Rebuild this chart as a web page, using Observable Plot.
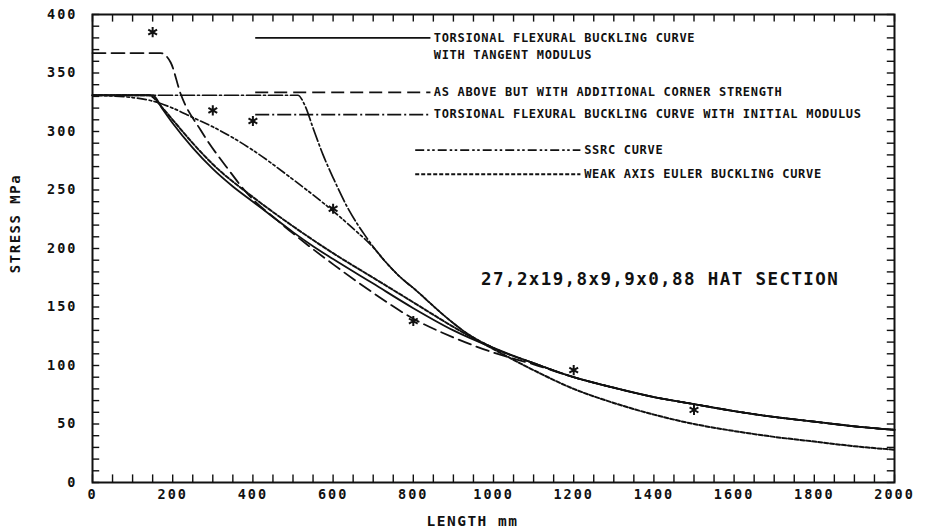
<!DOCTYPE html>
<html><head><meta charset="utf-8">
<script src="https://cdn.jsdelivr.net/npm/d3@7"></script>
<script src="https://cdn.jsdelivr.net/npm/@observablehq/plot@0.6"></script>
<style>
body{margin:0;background:#fff;}
#chart svg{display:block;}
</style></head><body><div id="chart"></div>
<script>
// ---- data (length mm, stress MPa) ----
const tangentL = [0,150,175,200,250,300,350,400,450,500,550,600,700,800,900,1000,1100,1200,1300,1400,1500,1600,1700,1800,1900,2000];
const tangentS = [331,331,319,307,286,268,253,240,227,214,202,191,170,149,130,115,102,90,81,73,67,61,56,52,48,45];

const cornerL = [0,170,195,220,270,340,386,461,544,602,700,800,900,1000,1100,1200,1300,1400,1500,1600,1700,1800,1900,2000];
const cornerS = [367,367,359,332,301,267,247,224,201,186,162,140,124,111,101,90,81,73,67,61,56,52,48,45];

const initialL = [0,512,530,550,575,602,636,680,720,760,811,869,936,1000,1100,1200,1300,1400,1500,1600,1700,1800,1900,2000];
const initialS = [331,331,322,303,280,259,235,211,193,178,163,145,127,115,102,90,81,73,67,61,56,52,48,45];

const ssrcL = [0,100,150,200,250,300,400,500,600,660,700,727,760,811,869,936,1000,1100,1200,1300,1400,1500,1600,1700,1800,1900,2000];
const ssrcS = [331,329,326,320,312,304,284,259,232,214,201,190,178,163,145,127,115,102,90,81,73,67,61,56,52,48,45];

const eulerL = [0,140,175,200,250,300,400,500,600,700,800,900,1000,1100,1200,1300,1400,1500,1600,1700,1800,1900,2000];
const eulerS = [331,331,320,310,290,272,244,219,196,175,154,133,114,96,80,68,58,50,44,39,35,31,28];

const testL = [150,300,400,600,800,1200,1500];
const testS = [385,318,309,234,138,96,62];

const xTicks = [0,200,400,600,800,1000,1200,1400,1600,1800,2000];
const yTicks = [0,50,100,150,200,250,300,350,400];

const legendLabels = [
  ["TORSIONAL FLEXURAL BUCKLING CURVE","WITH TANGENT MODULUS"],
  ["AS ABOVE BUT WITH ADDITIONAL CORNER STRENGTH"],
  ["TORSIONAL FLEXURAL BUCKLING CURVE WITH INITIAL MODULUS"],
  ["SSRC CURVE"],
  ["WEAK AXIS EULER BUCKLING CURVE"]
];
const sectionLabel = "27,2x19,8x9,9x0,88 HAT SECTION";
const xLabel = "LENGTH mm";
const yLabel = "STRESS MPa";

// ---- build tables ----
const toRows = (Ls, Ss) => Ls.map((L, i) => ({L, S: Ss[i]}));
const tangent = toRows(tangentL, tangentS);
const corner = toRows(cornerL, cornerS);
const initial = toRows(initialL, initialS);
const ssrc = toRows(ssrcL, ssrcS);
const euler = toRows(eulerL, eulerS);
const tests = toRows(testL, testS);

const styles = [
  {dash: null, width: 1.8},
  {dash: "13,6", width: 1.8},
  {dash: "14,3,2,3", width: 1.7},
  {dash: "9,3,2.5,2.5,2.5,3", width: 1.7},
  {dash: "4,2", width: 2}
];

// legend layout (data units)
const legendLayout = [
  {x1: 407, x2: 844, y: 380, tx: 851, ty: [380, 365]},
  {x1: 407, x2: 844, y: 333.5, tx: 851, ty: [333.5]},
  {x1: 407, x2: 844, y: 314.5, tx: 851, ty: [314.5]},
  {x1: 806, x2: 1218, y: 284, tx: 1226, ty: [284]},
  {x1: 806, x2: 1218, y: 263.5, tx: 1226, ty: [263.5]}
];
const legendLines = legendLayout.map((d, i) => ({...d, i}));
const legendTexts = legendLayout.flatMap((d, i) => legendLabels[i].map((t, j) => ({x: d.tx, y: d.ty[j], t})));

const lineOpts = (i) => ({x: "L", y: "S", stroke: "#111", strokeWidth: styles[i].width, strokeDasharray: styles[i].dash, curve: "monotone-x"});

const xMinor = d3.range(0, 2001, 50);
const yMinor = d3.range(0, 401, 10);
const tyLen = 6.5;  // MPa  (~7.5px)
const txLen = 18;   // mm   (~7px)

const plot = Plot.plot({
  width: 932, height: 532,
  marginTop: 14, marginRight: 38, marginBottom: 50, marginLeft: 92,
  x: {domain: [0, 2000], axis: null},
  y: {domain: [0, 400], axis: null},
  style: {fontFamily: "'DejaVu Sans Mono', monospace", fontWeight: "bold", color: "#111", background: "#fff"},
  marks: [
    // inward ticks on all four sides
    Plot.ruleX(xMinor, {x: d => d, y1: 0, y2: tyLen, stroke: "#111", strokeWidth: 1.4}),
    Plot.ruleX(xMinor, {x: d => d, y1: 400, y2: 400 - tyLen, stroke: "#111", strokeWidth: 1.4}),
    Plot.ruleY(yMinor, {y: d => d, x1: 0, x2: txLen, stroke: "#111", strokeWidth: 1.4}),
    Plot.ruleY(yMinor, {y: d => d, x1: 2000, x2: 2000 - txLen, stroke: "#111", strokeWidth: 1.4}),
    Plot.frame({stroke: "#111", strokeWidth: 2}),
    // tick labels
    Plot.text(xTicks, {x: d => d, frameAnchor: "bottom", dy: 12, lineAnchor: "middle", textAnchor: "middle", text: d => String(d), fontSize: 13.5, ariaDescription: "ticklabel"}),
    Plot.text(yTicks, {y: d => d, frameAnchor: "left", dx: -15, textAnchor: "end", lineAnchor: "middle", text: d => String(d), fontSize: 13.5, ariaDescription: "ticklabel"}),
    // axis titles
    Plot.text([xLabel], {frameAnchor: "bottom", dy: 39, dx: -21, lineAnchor: "middle", textAnchor: "middle", text: d => d, fontSize: 14.5, ariaDescription: "axistitle"}),
    Plot.text([yLabel], {frameAnchor: "left", dx: -77, dy: -25, rotate: -90, lineAnchor: "middle", textAnchor: "middle", text: d => d, fontSize: 14, ariaDescription: "axistitle"}),
    // curves
    Plot.line(euler, lineOpts(4)),
    Plot.line(ssrc, lineOpts(3)),
    Plot.line(initial, lineOpts(2)),
    Plot.line(corner, lineOpts(1)),
    Plot.line(tangent, lineOpts(0)),
    // test results
    Plot.dot(tests, {x: "L", y: "S", symbol: "asterisk", r: 4.8, stroke: "#111", strokeWidth: 2}),
    // legend
    ...legendLines.map(d => Plot.ruleY([d], {y: "y", x1: "x1", x2: "x2", stroke: "#111", strokeWidth: styles[d.i].width, strokeDasharray: styles[d.i].dash})),
    Plot.text(legendTexts, {x: "x", y: "y", text: "t", textAnchor: "start", lineAnchor: "middle", fontSize: 12, ariaDescription: "legend"}),
    // section annotation
    Plot.text([sectionLabel], {x: 969, y: 174, text: d => d, textAnchor: "start", lineAnchor: "middle", fontSize: 17.5, ariaDescription: "section"})
  ]
});

const svg = d3.select(plot);
svg.selectAll("g[aria-description=ticklabel] text").style("letter-spacing", "2px");
svg.selectAll("g[aria-description=axistitle] text").style("letter-spacing", "1.5px");
svg.selectAll("g[aria-description=legend] text").style("letter-spacing", "0.7px");
svg.selectAll("g[aria-description=section] text").style("letter-spacing", "1.4px");
document.getElementById("chart").appendChild(plot);
</script>
</body></html>
